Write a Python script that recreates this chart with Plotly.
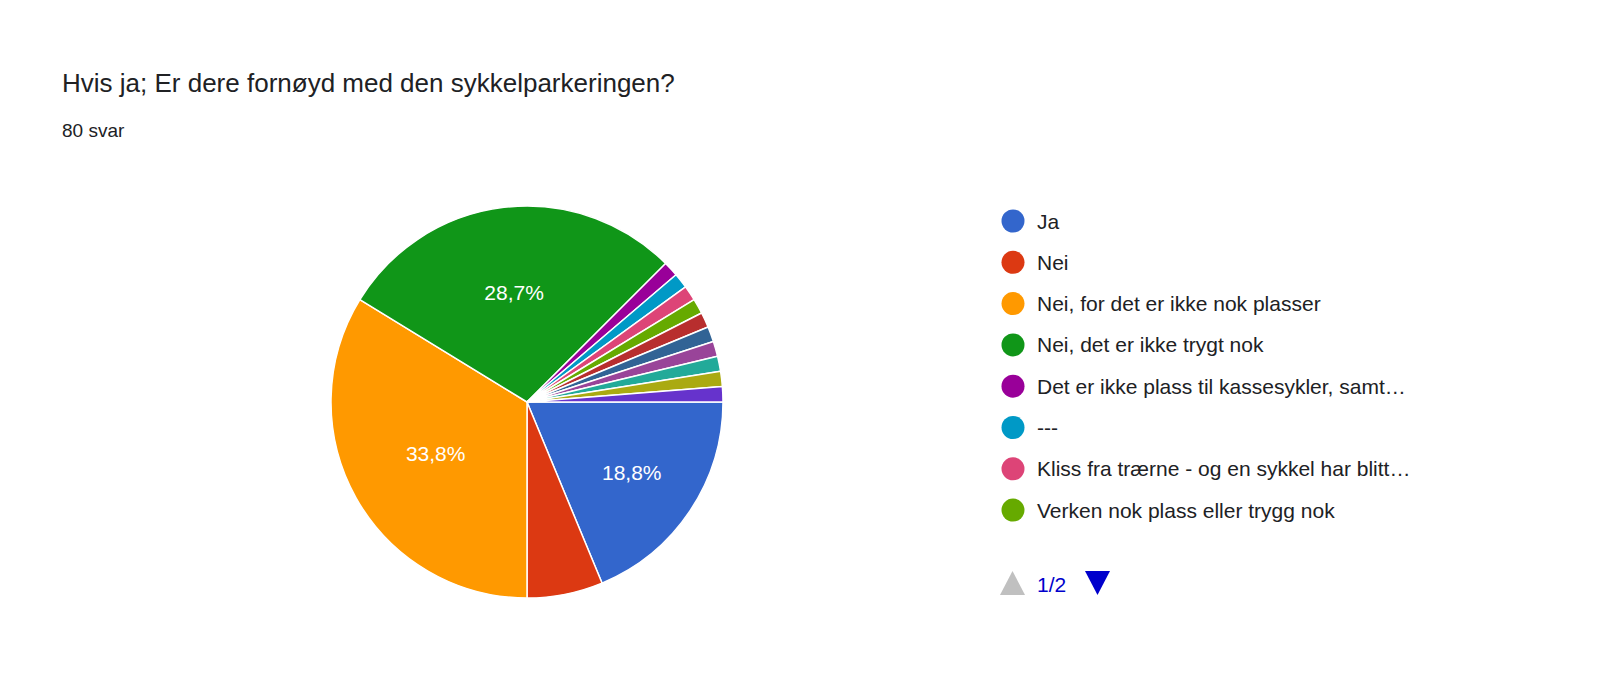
import plotly.graph_objects as go

labels = ["Ja", "Nei", "Nei, for det er ikke nok plasser", "Nei, det er ikke trygt nok",
          "Det er ikke plass til kassesykler, samt…", "---",
          "Kliss fra trærne - og en sykkel har blitt…", "Verken nok plass eller trygg nok",
          "Svar 9", "Svar 10", "Svar 11", "Svar 12", "Svar 13", "Svar 14"]
values = [15, 5, 27, 23, 1, 1, 1, 1, 1, 1, 1, 1, 1, 1]
colors = ["#3366cc", "#dc3912", "#ff9900", "#109618", "#990099", "#0099c6", "#dd4477",
          "#66aa00", "#b82e2e", "#316395", "#994499", "#22aa99", "#aaaa11", "#6633cc"]
legend_page = labels[:8]

W, H = 1600, 673
FONT = "Liberation Sans, Arial, Helvetica"
templ = ["%{percent:.1%}" if v / sum(values) > 0.1 else "" for v in values]

fig = go.Figure(go.Pie(
    labels=labels, values=values, sort=False, direction="clockwise", rotation=90,
    marker=dict(colors=colors, line=dict(color="white", width=1.5)),
    texttemplate=templ, textposition="inside", insidetextorientation="horizontal",
    textfont=dict(color="white", size=21, family=FONT),
    domain=dict(x=[(519 - 197) / W, (519 + 197) / W], y=[(H - 590) / H, (H - 198) / H]),
    showlegend=False, hoverinfo="label+percent"))

ann = [dict(text="Hvis ja; Er dere fornøyd med den sykkelparkeringen?", x=52 / W, y=1 - 75 / H,
            xref="paper", yref="paper", xanchor="left", yanchor="middle", showarrow=False,
            font=dict(size=26, color="#202124")),
       dict(text="80 svar", x=52 / W, y=1 - 122 / H, xref="paper", yref="paper",
            xanchor="left", yanchor="middle", showarrow=False, font=dict(size=19, color="#202124"))]
shapes = []
for i, lab in enumerate(legend_page):
    yc = 213 + i * 41.3
    shapes.append(dict(type="circle", xref="paper", yref="paper",
                       x0=(1005 - 11.5) / W, x1=(1005 + 11.5) / W, y0=1 - (yc + 11.5) / H, y1=1 - (yc - 11.5) / H,
                       fillcolor=colors[i], line=dict(width=0)))
    ann.append(dict(text=lab, x=1027 / W, y=1 - yc / H, xref="paper", yref="paper",
                    xanchor="left", yanchor="middle", showarrow=False,
                    font=dict(size=21, color="#202124")))
ann.append(dict(text="1/2", x=1027 / W, y=1 - 576 / H, xref="paper", yref="paper",
                xanchor="left", yanchor="middle", showarrow=False, font=dict(size=21, color="#0000cc")))
shapes.append(dict(type="path", xref="paper", yref="paper",
                   path=f"M {992/W} {1-587/H} L {1017/W} {1-587/H} L {1004.5/W} {1-563/H} Z",
                   fillcolor="#c0c0c0", line=dict(width=0)))
shapes.append(dict(type="path", xref="paper", yref="paper",
                   path=f"M {1077/W} {1-563/H} L {1102/W} {1-563/H} L {1089.5/W} {1-587/H} Z",
                   fillcolor="#0000cc", line=dict(width=0)))

fig.update_layout(width=W, height=H, margin=dict(l=0, r=0, t=0, b=0), separators=",.",
                  paper_bgcolor="white", font=dict(family=FONT),
                  annotations=ann, shapes=shapes)
fig.write_html("out.html")
